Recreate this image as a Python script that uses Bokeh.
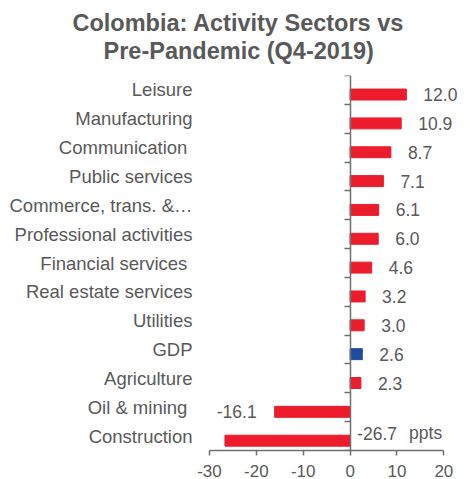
from bokeh.plotting import figure
from bokeh.models import ColumnDataSource, FixedTicker, LinearAxis, Title, Range1d
from bokeh.transform import dodge
from bokeh.core.properties import value as V
from bokeh.embed import file_html
from bokeh.resources import INLINE

# ---- data ----
categories = ["Leisure", "Manufacturing", "Communication ", "Public services",
              "Commerce, trans. &\u2026", "Professional activities", "Financial services ",
              "Real estate services", "Utilities", "GDP", "Agriculture", "Oil & mining ",
              "Construction"]
values = [12.0, 10.9, 8.7, 7.1, 6.1, 6.0, 4.6, 3.2, 3.0, 2.6, 2.3, -16.1, -26.7]
highlight = "GDP"
x_ticks = [-30, -20, -10, 0, 10, 20]
unit = "ppts"
title_lines = ["Colombia: Activity Sectors vs", "Pre-Pandemic (Q4-2019)"]

# ---- styles ----
RED = "#EC1C2D"
BLUE = "#1F4C9E"
TXT = "#595959"
AX = "#6f6f6f"
FONT = "Liberation Sans"

n = len(categories)
ypos = [n - 1 - i for i in range(n)]
colors = [BLUE if c == highlight else RED for c in categories]

src = ColumnDataSource(dict(y=ypos, v=values, c=colors, cat=categories))

p = figure(width=473, height=479, output_backend="svg", toolbar_location=None,
           x_range=Range1d(x_ticks[0], 25.9), y_range=Range1d(-0.5, n - 0.5),
           min_border_left=209, min_border_right=2, min_border_top=75, min_border_bottom=28)
p.outline_line_color = None
p.xgrid.grid_line_color = None
p.ygrid.grid_line_color = None
p.background_fill_color = "white"
p.border_fill_color = "white"

ybar = dodge("y", -0.16, range=p.y_range)
p.hbar(y=ybar, left=0, right="v", height=0.38, color="c", source=src)

# value labels
pos_src = ColumnDataSource(dict(
    x=[v for v in values if v >= 0],
    y=[y for y, v in zip(ypos, values) if v >= 0],
    t=[f"{v:.1f}" for v in values if v >= 0]))
neg_src = ColumnDataSource(dict(
    x=[v for v in values if -20 <= v < 0],
    y=[y for y, v in zip(ypos, values) if -20 <= v < 0],
    t=[f"{v:.1f}" for v in values if -20 <= v < 0]))
far_src = ColumnDataSource(dict(
    x=[0 for v in values if v < -20],
    y=[y for y, v in zip(ypos, values) if v < -20],
    t=[f"{v:.1f}" for v in values if v < -20],
    u=[unit for v in values if v < -20]))

common = dict(text_font_size="17.5px", text_color=TXT,
              text_baseline="middle", text_font=V(FONT))
p.text(x="x", y=ybar, text="t", x_offset=17, text_align="left", source=pos_src, **common)
p.text(x="x", y=ybar, text="t", x_offset=-18, text_align="right", source=neg_src, **common)
p.text(x="x", y="y", text="t", x_offset=7, y_offset=-3, text_align="left",
       source=far_src, **common)
p.text(x="x", y="y", text="u", x_offset=59, y_offset=-3, text_align="left",
       source=far_src, **common)

# category axis (labels only)
ya = p.yaxis[0]
ya.ticker = FixedTicker(ticks=ypos)
ya.major_label_overrides = {y: c for y, c in zip(ypos, categories)}
ya.axis_line_color = None
ya.major_tick_line_color = None
ya.major_tick_out = 0
ya.major_tick_in = 0
ya.minor_tick_line_color = None
ya.major_label_standoff = 17
ya.major_label_text_font = FONT
ya.major_label_text_font_size = "18.5px"
ya.major_label_text_color = TXT

# axis line at zero with boundary ticks
za = LinearAxis(ticker=FixedTicker(ticks=[y + 0.5 for y in range(-1, n)]),
                fixed_location=0)
za.major_label_overrides = {y + 0.5: "" for y in range(-1, n)}
za.major_label_text_font_size = "0px"
za.axis_line_color = AX
za.axis_line_width = 1.5
za.major_tick_line_color = AX
za.major_tick_line_width = 1.5
za.major_tick_in = 6
za.major_tick_out = 0
za.minor_tick_line_color = None
p.add_layout(za, "right")

xa = p.xaxis[0]
xa.ticker = FixedTicker(ticks=x_ticks)
xa.bounds = (x_ticks[0], x_ticks[-1])
xa.major_label_overrides = {t: f"{t}" for t in x_ticks}
xa.axis_line_color = AX
xa.axis_line_width = 1.5
xa.major_tick_line_color = AX
xa.major_tick_line_width = 1.5
xa.major_tick_out = 5
xa.major_tick_in = 0
xa.minor_tick_line_color = None
xa.major_label_standoff = 9
xa.major_label_text_font = FONT
xa.major_label_text_font_size = "17px"
xa.major_label_text_color = TXT

# spacer between frame and title block
p.add_layout(Title(text=" ", text_font_size="8.5px", standoff=0), "above")
# title (two lines, positioned relative to the frame's left edge)
for line, off in reversed(list(zip(title_lines, [-137, -106]))):
    p.add_layout(Title(text=line, align="left", offset=off, text_font=FONT,
                       text_font_size="23.5px", text_font_style="bold",
                       text_color=TXT, standoff=0), "above")

open("out.html", "w").write(file_html(p, INLINE))
